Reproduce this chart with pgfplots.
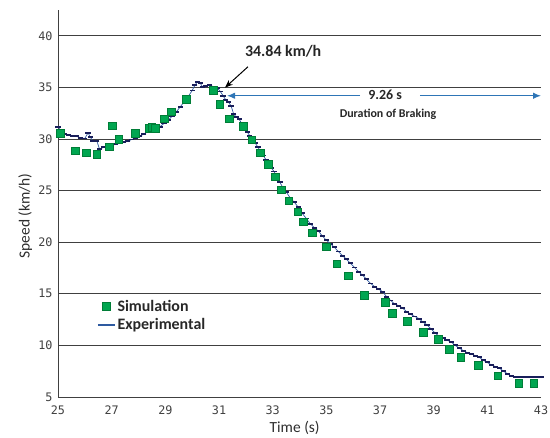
\documentclass[border=0pt]{standalone}
\usepackage{pgfplots}
\pgfplotsset{compat=1.18}
\usepackage{fontspec}
\setmainfont{Carlito}
\newfontfamily\monofont{DejaVu Sans Mono}
\usetikzlibrary{arrows.meta}
\definecolor{simgreen}{RGB}{0,166,80}
\definecolor{simedge}{RGB}{0,125,55}
\definecolor{expnavy}{RGB}{25,30,90}
\definecolor{expblue}{RGB}{46,90,160}
\definecolor{gridgray}{RGB}{64,64,64}
\definecolor{arrowblue}{RGB}{46,117,182}

\pgfplotstableread{
x y
25.09 30.57
25.64 28.88
26.05 28.69
26.45 28.53
26.90 29.27
27.01 31.28
27.26 29.99
27.88 30.57
28.38 31.06
28.49 31.15
28.63 31.06
28.96 31.96
29.21 32.64
29.77 33.84
30.78 34.74
31.03 33.37
31.38 31.96
31.91 31.22
32.22 29.95
32.53 28.68
32.84 27.54
33.09 26.35
33.31 25.08
33.60 24.04
33.93 22.97
34.14 22.00
34.48 20.94
34.99 19.58
35.39 17.90
35.82 16.77
36.42 14.85
37.19 14.21
37.46 13.11
38.02 12.37
38.60 11.30
39.16 10.59
39.57 9.62
40.01 8.84
40.65 8.10
41.39 7.07
42.17 6.33
42.72 6.33
}\simdata

\pgfplotstableread{
x y
25.00 31.20
25.10 30.80
25.25 30.50
25.40 30.40
25.55 30.30
25.70 30.25
25.85 30.10
26.00 30.05
26.12 30.60
26.20 30.20
26.30 29.80
26.45 29.80
26.55 29.00
26.70 29.20
26.85 29.30
27.00 29.45
27.15 29.55
27.30 29.60
27.45 29.70
27.60 29.80
27.75 29.95
27.90 30.10
28.05 30.25
28.20 30.50
28.35 30.70
28.50 30.85
28.65 31.00
28.80 31.20
28.95 31.50
29.10 31.80
29.25 32.20
29.40 32.60
29.55 33.10
29.70 33.60
29.85 34.10
30.00 34.70
30.10 35.20
30.20 35.55
30.30 35.40
30.40 35.00
30.50 35.10
30.65 35.25
30.80 35.05
30.95 34.90
31.05 34.60
31.15 34.20
31.25 33.80
31.35 33.60
31.45 33.20
31.55 32.40
31.65 32.10
31.75 31.90
31.85 31.50
31.95 31.20
32.05 30.70
32.15 30.30
32.25 29.95
32.35 29.60
32.45 29.20
32.55 28.80
32.65 28.40
32.75 28.00
32.85 27.60
32.95 27.20
33.05 26.85
33.15 26.40
33.27 25.80
33.40 25.20
33.50 24.90
33.65 24.30
33.80 23.90
33.95 23.40
34.10 22.80
34.25 22.30
34.40 21.80
34.55 21.40
34.70 21.10
34.85 20.60
35.00 20.20
35.15 19.85
35.30 19.50
35.45 19.10
35.60 18.70
35.75 18.35
35.90 17.95
36.05 17.55
36.20 17.15
36.35 16.80
36.50 16.40
36.65 16.00
36.80 15.70
36.95 15.45
37.10 15.20
37.25 14.70
37.40 14.35
37.55 14.00
37.70 13.85
37.85 13.60
38.00 13.25
38.15 13.00
38.30 12.80
38.45 12.60
38.60 12.25
38.75 12.00
38.90 11.60
39.05 11.20
39.20 10.90
39.35 10.70
39.50 10.50
39.65 10.35
39.80 10.00
39.95 9.75
40.10 9.50
40.25 9.30
40.40 9.20
40.55 9.00
40.70 8.85
40.85 8.55
41.00 8.35
41.15 8.10
41.30 7.95
41.45 7.80
41.60 7.50
41.75 7.25
41.90 7.00
42.05 6.97
42.20 6.97
42.35 6.97
42.50 6.97
42.65 6.97
42.80 6.97
43.00 6.97
}\expdata

\begin{document}
\begin{tikzpicture}
\begin{axis}[
  scale only axis, width=483bp, height=387bp,
  xmin=25, xmax=43, ymin=5, ymax=42.5,
  xtick={25,27,...,43}, ytick={5,10,...,40},
  axis x line*=bottom, axis y line*=left,
  ymajorgrids, grid style={gridgray, line width=0.9pt},
  major tick length=0pt,
  axis line style={gridgray, line width=0.9pt},
  /pgf/number format/assume math mode=true,
  tick label style={font=\monofont\fontsize{11.8}{12}\selectfont, text=gridgray},
  xticklabel style={yshift=-5bp},
  yticklabel style={xshift=-2bp},
  xlabel={Time (s)},
  ylabel={Speed (km/h)},
  label style={font=\fontsize{15.5}{16}\selectfont, text=gridgray!70!black},
  xlabel style={at={(axis description cs:0.49,0)}, anchor=north, yshift=-21bp},
  ylabel style={at={(axis description cs:-0.068,0.468)}, anchor=center},
  clip=false,
  legend style={at={(axis cs:26.45,14.6)}, anchor=north west, draw=none, fill=none,
    font=\bfseries\fontsize{16}{18}\selectfont, text=gridgray!60!black,
    row sep=2bp, inner sep=0pt},
  legend cell align=left,
]
\addplot[expblue, line width=0.7pt, mark=-, mark size=2.6pt,
  mark options={expnavy, line width=1.9pt}, forget plot] table[x=x,y=y]{\expdata};
\addplot[only marks, mark=square*, mark size=3.8pt,
  mark options={fill=simgreen, draw=simedge, line width=0.4pt}, forget plot] table[x=x,y=y]{\simdata};

\addlegendimage{only marks, mark=square*, mark size=3.8pt, mark options={fill=simgreen, draw=simedge}}
\addlegendentry{Simulation}
\addlegendimage{line legend, expblue, line width=1.4pt}
\addlegendentry{Experimental}

\node[font=\bfseries\fontsize{16}{18}\selectfont, text=black!85] at (axis cs:33.39,38.46) {34.84 km/h};
\draw[black, line width=1pt, -{Stealth[length=8pt,width=6pt]}] (axis cs:32.08,37.0) -- (axis cs:31.22,34.97);
\draw[arrowblue, line width=1.1pt, -{Latex[length=8pt,width=6.5pt]}] (axis cs:36.26,34.19) -- (axis cs:31.30,34.19);
\draw[arrowblue, line width=1.1pt, -{Latex[length=8pt,width=6.5pt]}] (axis cs:38.49,34.19) -- (axis cs:43.0,34.19);
\node[font=\bfseries\fontsize{14}{16}\selectfont, text=black!85] at (axis cs:37.19,34.25) {9.26 s};
\node[font=\bfseries\fontsize{12}{14}\selectfont, text=black!85] at (axis cs:37.30,32.35) {Duration of Braking};
\end{axis}
\pgfresetboundingbox
\path (-58bp,-41bp) rectangle (492bp,397bp);
\end{tikzpicture}
\end{document}
